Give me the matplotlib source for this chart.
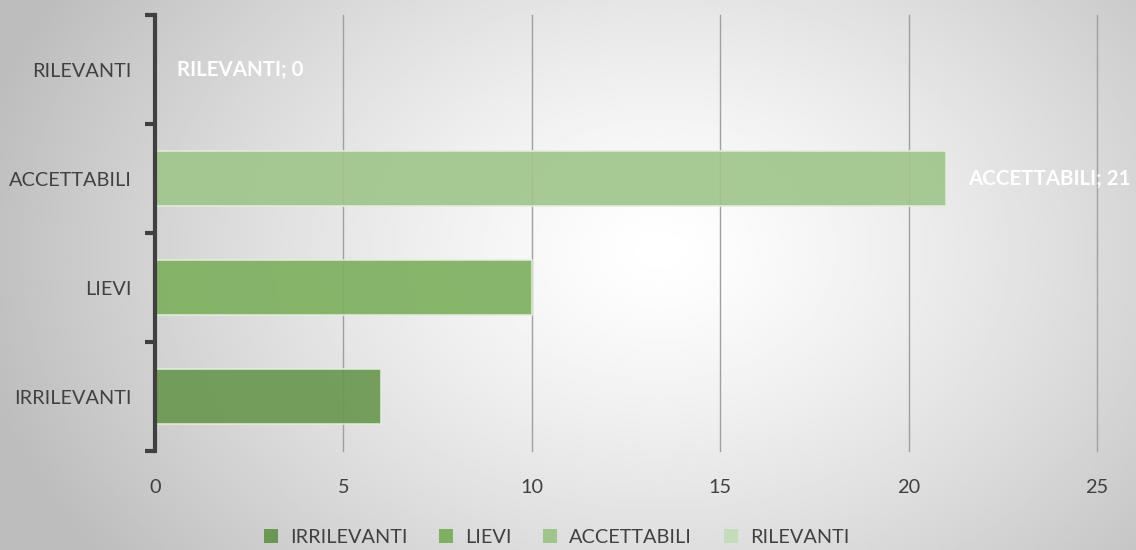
import numpy as np
import matplotlib
matplotlib.use("Agg")
from matplotlib import pyplot
from matplotlib.patches import Patch

# data
categories = ["IRRILEVANTI", "LIEVI", "ACCETTABILI", "RILEVANTI"]
values = [6, 10, 21, 0]
colours = ["#6a9850", "#7eb05f", "#a0c58b", "#c5dcb8"]
labelled = {"ACCETTABILI": 21, "RILEVANTI": 0}
xticks = [0, 5, 10, 15, 20, 25]

pyplot.rcParams["font.family"] = ["Lato", "DejaVu Sans"]

fig = pyplot.figure(figsize=(11.36, 5.5), dpi=100)

# radial gradient background
bg = fig.add_axes([0, 0, 1, 1], zorder=-10)
gx, gy = np.meshgrid(np.linspace(0, 1136, 400), np.linspace(0, 550, 200))
r = np.sqrt(((gx - 660) / 700) ** 2 + ((gy - 250) / 520) ** 2)
shade = 1.0 - 0.26 * np.clip(r, 0, 1) ** 1.3
bg.imshow(shade, cmap="gray", vmin=0, vmax=1, extent=[0, 1, 0, 1], aspect="auto")
bg.axis("off")

ax = fig.add_axes([0.1364, 0.18, 0.8293, 0.7927])
ax.patch.set_alpha(0)

y = np.arange(len(categories))
ax.barh(y, values, height=0.5, color=colours, edgecolor="#e4eedd", linewidth=1.2,
        alpha=0.92, zorder=3)

for i, (cat, v) in enumerate(zip(categories, values)):
    if cat in labelled:
        ax.annotate(f"{cat}; {v}", (v, i), xytext=(16, 0), textcoords="offset points",
                    ha="left", va="center", color="white", fontsize=14.8,
                    fontweight="bold", zorder=4)

ax.set_xlim(0, 25)
ax.set_ylim(-0.5, 3.5)
ax.set_xticks(xticks)
ax.set_yticks(y)
ax.set_yticklabels(categories)
ax.set_yticks(np.arange(-0.5, 4.0, 1.0), minor=True)
ax.tick_params(axis="y", which="major", length=0, pad=17, labelsize=14.3, labelcolor="#404040")
ax.tick_params(axis="y", which="minor", length=7, width=3, color="#404040")
ax.tick_params(axis="x", length=0, pad=20, labelsize=14.3, labelcolor="#404040")

ax.grid(axis="x", color="#a0a0a0", linewidth=1, zorder=1)
for gl in ax.get_xgridlines():
    gl.set_clip_on(False)
ax.set_axisbelow(True)
for s in ["top", "right", "bottom"]:
    ax.spines[s].set_visible(False)
ax.spines["left"].set_color("#404040")
ax.spines["left"].set_linewidth(3)
ax.spines["left"].set_zorder(5)

handles = [Patch(facecolor=c, edgecolor="none") for c in colours]
fig.legend(handles, categories, loc="center", bbox_to_anchor=(0.49, 0.023), ncol=4,
           frameon=False, fontsize=14.3, handlelength=0.7, handleheight=0.7,
           handletextpad=0.6, columnspacing=1.6, labelcolor="#404040")

pyplot.savefig("out.png", dpi=100)
